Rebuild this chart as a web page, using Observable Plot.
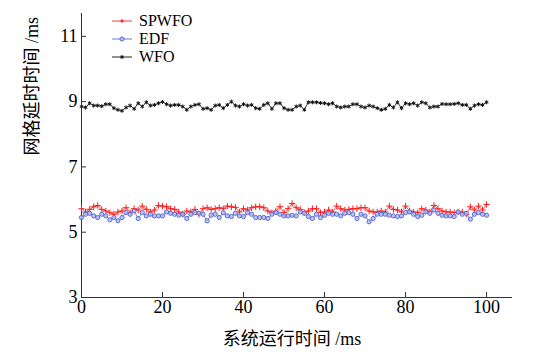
<!DOCTYPE html>
<html>
<head>
<meta charset="utf-8">
<script src="https://cdn.jsdelivr.net/npm/d3@7"></script>
<script src="https://cdn.jsdelivr.net/npm/@observablehq/plot@0.6"></script>
<style>
  html, body { margin: 0; padding: 0; background: #fff; }
  #wrap { position: relative; width: 536px; height: 357px; }
  #wrap svg text { font-family: "Liberation Serif", "Noto Sans CJK SC", serif !important; }
  #legend { position: absolute; left: 111px; top: 12px; font-family: "Liberation Serif", serif; font-size: 16px; line-height: 18px; color: #000; }
  #legend .row { display: flex; align-items: center; height: 18px; }
  #legend svg { margin-right: 6px; }
</style>
</head>
<body>
<div id="wrap"><div id="legend"></div></div>
<script>
const seriesNames = ["SPWFO", "EDF", "WFO"];
const xTicks = [0, 20, 40, 60, 80, 100];
const yTicks = [3, 5, 7, 9, 11];

const spwfo = [5.72,5.62,5.70,5.78,5.82,5.70,5.65,5.60,5.55,5.62,
  5.65,5.75,5.60,5.72,5.68,5.80,5.70,5.62,5.68,5.82,
  5.80,5.78,5.72,5.70,5.62,5.55,5.65,5.62,5.70,5.55,
  5.72,5.75,5.70,5.72,5.75,5.72,5.80,5.78,5.76,5.62,
  5.72,5.68,5.75,5.78,5.78,5.75,5.65,5.60,5.65,5.78,
  5.60,5.72,5.88,5.75,5.70,5.60,5.65,5.72,5.72,5.60,
  5.62,5.68,5.62,5.80,5.72,5.68,5.70,5.72,5.72,5.75,
  5.75,5.65,5.62,5.62,5.65,5.62,5.80,5.70,5.68,5.62,
  5.80,5.65,5.62,5.60,5.72,5.68,5.62,5.82,5.72,5.65,
  5.62,5.62,5.60,5.62,5.62,5.55,5.78,5.68,5.80,5.68,5.85];

const edf = [5.45,5.55,5.58,5.50,5.45,5.55,5.50,5.38,5.45,5.35,
  5.45,5.60,5.55,5.65,5.42,5.60,5.50,5.55,5.50,5.50,
  5.50,5.62,5.58,5.55,5.52,5.55,5.42,5.55,5.60,5.58,
  5.55,5.35,5.52,5.55,5.45,5.60,5.50,5.48,5.58,5.50,
  5.48,5.60,5.55,5.45,5.45,5.45,5.42,5.55,5.60,5.55,
  5.50,5.50,5.52,5.50,5.62,5.58,5.48,5.42,5.55,5.45,
  5.52,5.58,5.55,5.55,5.50,5.58,5.60,5.55,5.42,5.55,
  5.50,5.32,5.42,5.55,5.55,5.55,5.52,5.50,5.48,5.50,
  5.60,5.62,5.55,5.48,5.52,5.62,5.58,5.68,5.58,5.52,
  5.50,5.50,5.48,5.62,5.55,5.58,5.40,5.55,5.60,5.55,5.52];

const wfo = [8.85,8.82,8.95,8.88,8.88,8.86,8.92,8.92,8.80,8.75,
  8.72,8.82,8.88,8.78,8.95,8.85,8.98,8.88,8.90,8.95,
  8.99,8.92,8.88,8.90,8.90,8.85,8.75,8.85,8.90,8.92,
  8.78,8.80,8.75,8.88,8.90,8.80,8.90,9.00,8.88,8.85,
  8.92,8.88,8.90,8.80,8.78,8.90,8.95,8.78,8.95,8.95,
  8.80,8.75,8.75,8.85,8.88,8.75,8.98,8.98,8.98,8.96,
  8.95,8.92,8.95,8.85,8.82,8.85,8.85,8.92,8.92,8.85,
  8.82,8.88,8.85,8.80,8.75,8.78,8.90,8.82,8.98,8.80,
  8.95,8.92,8.95,8.88,8.98,8.95,8.82,8.85,8.85,8.93,
  8.92,8.92,8.93,8.95,8.90,8.90,8.78,8.88,8.92,8.90,8.98];

const time = spwfo.map((_, i) => i);

const styles = {
  SPWFO: {line: "#f04040", stroke: "#ff1a1a", fill: "none", symbol: "plus", r: 2.2},
  EDF: {line: "#6a78d8", stroke: "#5a6ad0", fill: "#b8c0f0", symbol: "circle", r: 2.1},
  WFO: {line: "#222", stroke: "#111", fill: "none", symbol: "asterisk", r: 1.9}
};
const valuesBy = {SPWFO: spwfo, EDF: edf, WFO: wfo};

const rows = [];
for (const name of seriesNames) {
  valuesBy[name].forEach((v, i) => rows.push({series: name, t: time[i], v}));
}

const lineMarks = [];
for (const name of seriesNames) {
  const d = rows.filter(r => r.series === name);
  const s = styles[name];
  lineMarks.push(Plot.line(d, {x: "t", y: "v", stroke: s.line, strokeWidth: 1, strokeOpacity: 0.9}));
  lineMarks.push(Plot.dot(d, {x: "t", y: "v", symbol: s.symbol, r: s.r, stroke: s.stroke, fill: s.fill, strokeWidth: 1, fillOpacity: 0.8}));
}

const font = "'Liberation Serif', 'Noto Sans CJK SC', serif";

const chart = Plot.plot({
  width: 536,
  height: 357,
  marginLeft: 81,
  marginRight: 24,
  marginTop: 13,
  marginBottom: 60,
  x: {domain: [0, 106.4]},
  y: {domain: [3, 11.7]},
  style: {fontFamily: font, fontSize: "18px", color: "#000", background: "#fff", overflow: "visible"},
  marks: [
    // inward ticks
    Plot.axisX(xTicks, {tickSize: 5, dy: -5, tickFormat: () => "", label: null, stroke: "#333"}),
    Plot.axisY(yTicks, {tickSize: 5, dx: 5, tickFormat: () => "", label: null, stroke: "#333"}),
    // tick labels
    Plot.axisX(xTicks, {tickSize: 0, tickPadding: 3, label: null, fontSize: 18, fontFamily: font}),
    Plot.axisY(yTicks, {tickSize: 0, tickPadding: 4, label: null, fontSize: 18, fontFamily: font}),
    // axis lines
    Plot.ruleX([0], {stroke: "#333"}),
    Plot.ruleY([3], {stroke: "#333"}),
    ...lineMarks,
    // axis titles
    Plot.text(["系统运行时间 /ms"], {frameAnchor: "bottom", dy: 47, dx: -5, fontSize: 18, fontFamily: font, text: d => d}),
    Plot.text(["网格延时时间 /ms"], {frameAnchor: "left", dx: -49, rotate: -90, fontSize: 18, fontFamily: font, text: d => d})
  ]
});

document.getElementById("wrap").prepend(chart);

// legend
const legend = d3.select("#legend");
for (const name of seriesNames) {
  const s = styles[name];
  const row = legend.append("div").attr("class", "row");
  const sw = row.append("svg").attr("width", 22).attr("height", 12);
  sw.append("line").attr("x1", 1).attr("x2", 21).attr("y1", 6).attr("y2", 6).attr("stroke", s.line).attr("stroke-width", 1);
  if (s.symbol === "plus") {
    sw.append("path").attr("d", `M${11 - s.r},6H${11 + s.r}M11,${6 - s.r}V${6 + s.r}`).attr("stroke", s.stroke).attr("fill", "none");
  } else if (s.symbol === "circle") {
    sw.append("circle").attr("cx", 11).attr("cy", 6).attr("r", s.r).attr("stroke", s.stroke).attr("fill", s.fill);
  } else {
    sw.append("path").attr("transform", "translate(11,6)").attr("d", d3.symbol(d3.symbolAsterisk, Math.PI * s.r * s.r)()).attr("stroke", s.stroke).attr("fill", "none");
  }
  row.append("span").text(name);
}
</script>
</body>
</html>
